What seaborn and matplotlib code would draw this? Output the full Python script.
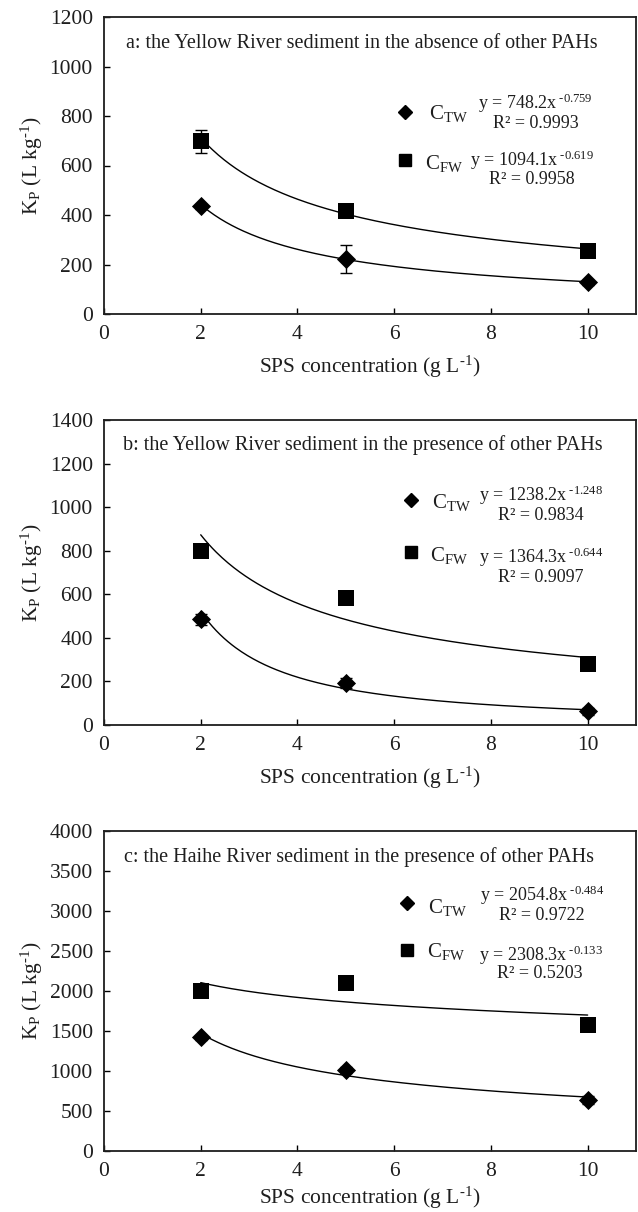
import numpy as np
import pandas as pd
import matplotlib
matplotlib.use("Agg")
import matplotlib.pyplot as plt
import seaborn as sns

# ---------------- data ----------------
sps = [2, 5, 10]

a_ctw = [435, 222, 128]
a_ctw_err = [10, 55, 10]
a_cfw = [697, 415, 255]
a_cfw_err = [45, 10, 10]

b_ctw = [485, 193, 62]
b_ctw_err = [25, 25, 15]
b_cfw = [800, 583, 278]
b_cfw_err = [25, 25, 12]

c_ctw = [1420, 1010, 640]
c_ctw_err = [30, 40, 50]
c_cfw = [2000, 2100, 1580]
c_cfw_err = [30, 30, 70]

# power-law fit coefficients shown on the chart: y = k * x^n
a_fit_ctw = (748.2, -0.759)
a_fit_cfw = (1094.1, -0.619)
b_fit_ctw = (1238.2, -1.248)
b_fit_cfw = (1364.3, -0.644)
c_fit_ctw = (2054.8, -0.484)
c_fit_cfw = (2308.3, -0.133)

a_eq = [("y = 748.2x", "-0.759"), ("R² = 0.9993", None), ("y = 1094.1x", "-0.619"), ("R² = 0.9958", None)]
b_eq = [("y = 1238.2x", "-1.248"), ("R² = 0.9834", None), ("y = 1364.3x", "-0.644"), ("R² = 0.9097", None)]
c_eq = [("y = 2054.8x", "-0.484"), ("R² = 0.9722", None), ("y = 2308.3x", "-0.133"), ("R² = 0.5203", None)]

titles = ["a: the Yellow River sediment in the absence of other PAHs",
          "b: the Yellow River sediment in the presence of other PAHs",
          "c: the Haihe River sediment in the presence of other PAHs"]
ylims = [1200, 1400, 4000]
ysteps = [200, 200, 500]
xticks = [0, 2, 4, 6, 8, 10]

# ---------------- style ----------------
sns.set_style("ticks")
plt.rcParams["font.family"] = ["Liberation Serif", "DejaVu Serif"]
plt.rcParams["mathtext.fontset"] = "custom"
plt.rcParams["mathtext.rm"] = "Liberation Serif"
plt.rcParams["mathtext.it"] = "Liberation Serif:italic"
plt.rcParams["mathtext.default"] = "rm"

W, H = 638, 1212
fig = plt.figure(figsize=(W / 100, H / 100), dpi=100)

# panel boxes in pixels (left, top, right, bottom)
boxes = [(104, 17, 636, 314), (104, 420, 636, 725), (104, 831, 636, 1151)]
xlabel_pads = [7, 7, 3]


def fx(x):
    return x / W


def fy(y):
    return 1 - y / H


# legend/equation positions in pixels per panel
leg = [
    dict(dia=(405, 112), ctw=(429, 113), eq1=(535, 103), r1=(536, 123),
         sq=(405, 160), cfw=(425, 163), eq2=(532, 160), r2=(532, 180), title=(126, 43)),
    dict(dia=(411, 500), ctw=(432, 502), eq1=(541, 495), r1=(541, 515),
         sq=(411, 552), cfw=(430, 555), eq2=(541, 557), r2=(541, 577), title=(123, 445)),
    dict(dia=(407, 903), ctw=(428, 907), eq1=(542, 895), r1=(542, 916),
         sq=(407, 950), cfw=(427, 952), eq2=(541, 955), r2=(540, 973), title=(124, 857)),
]

panels = [
    (a_ctw, a_ctw_err, a_cfw, a_cfw_err, a_fit_ctw, a_fit_cfw, a_eq),
    (b_ctw, b_ctw_err, b_cfw, b_cfw_err, b_fit_ctw, b_fit_cfw, b_eq),
    (c_ctw, c_ctw_err, c_cfw, c_cfw_err, c_fit_ctw, c_fit_cfw, c_eq),
]

xfit = np.linspace(2, 10, 200)
TXT = "#1e1e1e"

for i, (ctw, ctwe, cfw, cfwe, fctw, fcfw, eqs) in enumerate(panels):
    l, t, r, b = boxes[i]
    ax = fig.add_axes([fx(l), fy(b), (r - l) / W, (b - t) / H])

    for (k, n) in (fctw, fcfw):
        dfit = pd.DataFrame({"x": xfit, "y": k * xfit ** n})
        sns.lineplot(data=dfit, x="x", y="y", ax=ax, color="black", lw=1.0, zorder=2)

    ax.errorbar(sps, ctw, yerr=ctwe, fmt="none", ecolor="black", elinewidth=1.0,
                capsize=4, capthick=1.0, zorder=3)
    ax.errorbar(sps, cfw, yerr=cfwe, fmt="none", ecolor="black", elinewidth=1.0,
                capsize=4, capthick=1.0, zorder=3)
    d1 = pd.DataFrame({"x": sps, "y": ctw})
    d2 = pd.DataFrame({"x": sps, "y": cfw})
    sns.scatterplot(data=d1, x="x", y="y", ax=ax, marker="D", s=95, color="black",
                    edgecolor="black", linewidth=0, zorder=4)
    sns.scatterplot(data=d2, x="x", y="y", ax=ax, marker="s", s=120, color="black",
                    edgecolor="black", linewidth=0, zorder=4)

    ax.set_xlim(0, 11)
    ax.set_ylim(0, ylims[i])
    ax.set_xticks(xticks)
    ax.set_yticks(np.arange(0, ylims[i] + 1, ysteps[i]))
    ax.tick_params(direction="in", length=4, width=1, labelsize=15.5, pad=8,
                   color="black", labelcolor=TXT)
    for s in ax.spines.values():
        s.set_linewidth(1.3)
        s.set_color(TXT)
    ax.set_xlabel("SPS concentration (g L$^{\\text{-1}}$)", fontsize=15.5,
                  labelpad=xlabel_pads[i], color=TXT)
    ax.set_ylabel("K$_{\\rm P}$ (L kg$^{\\text{-1}}$)", fontsize=15.5, labelpad=3, color=TXT)

    p = leg[i]
    fig.text(fx(p["title"][0]), fy(p["title"][1]), titles[i], fontsize=14.5,
             ha="left", va="center", color=TXT)
    fig.lines.append(plt.Line2D([fx(p["dia"][0])], [fy(p["dia"][1])], marker="D", ms=7,
                                color="black", lw=0, transform=fig.transFigure))
    fig.lines.append(plt.Line2D([fx(p["sq"][0])], [fy(p["sq"][1])], marker="s", ms=8.5,
                                color="black", lw=0, transform=fig.transFigure))
    fig.text(fx(p["ctw"][0]), fy(p["ctw"][1]), "C$_{\\rm TW}$", fontsize=15,
             ha="left", va="center", color=TXT)
    fig.text(fx(p["cfw"][0]), fy(p["cfw"][1]), "C$_{\\rm FW}$", fontsize=15,
             ha="left", va="center", color=TXT)
    for key, (txt, sup) in zip(["eq1", "r1", "eq2", "r2"], eqs):
        if sup is not None:
            txt = txt + "$^{\\text{ " + sup + "}}$"
        fig.text(fx(p[key][0]), fy(p[key][1]), txt, fontsize=13,
                 ha="center", va="center", color=TXT)

fig.savefig("out.png", dpi=100)
